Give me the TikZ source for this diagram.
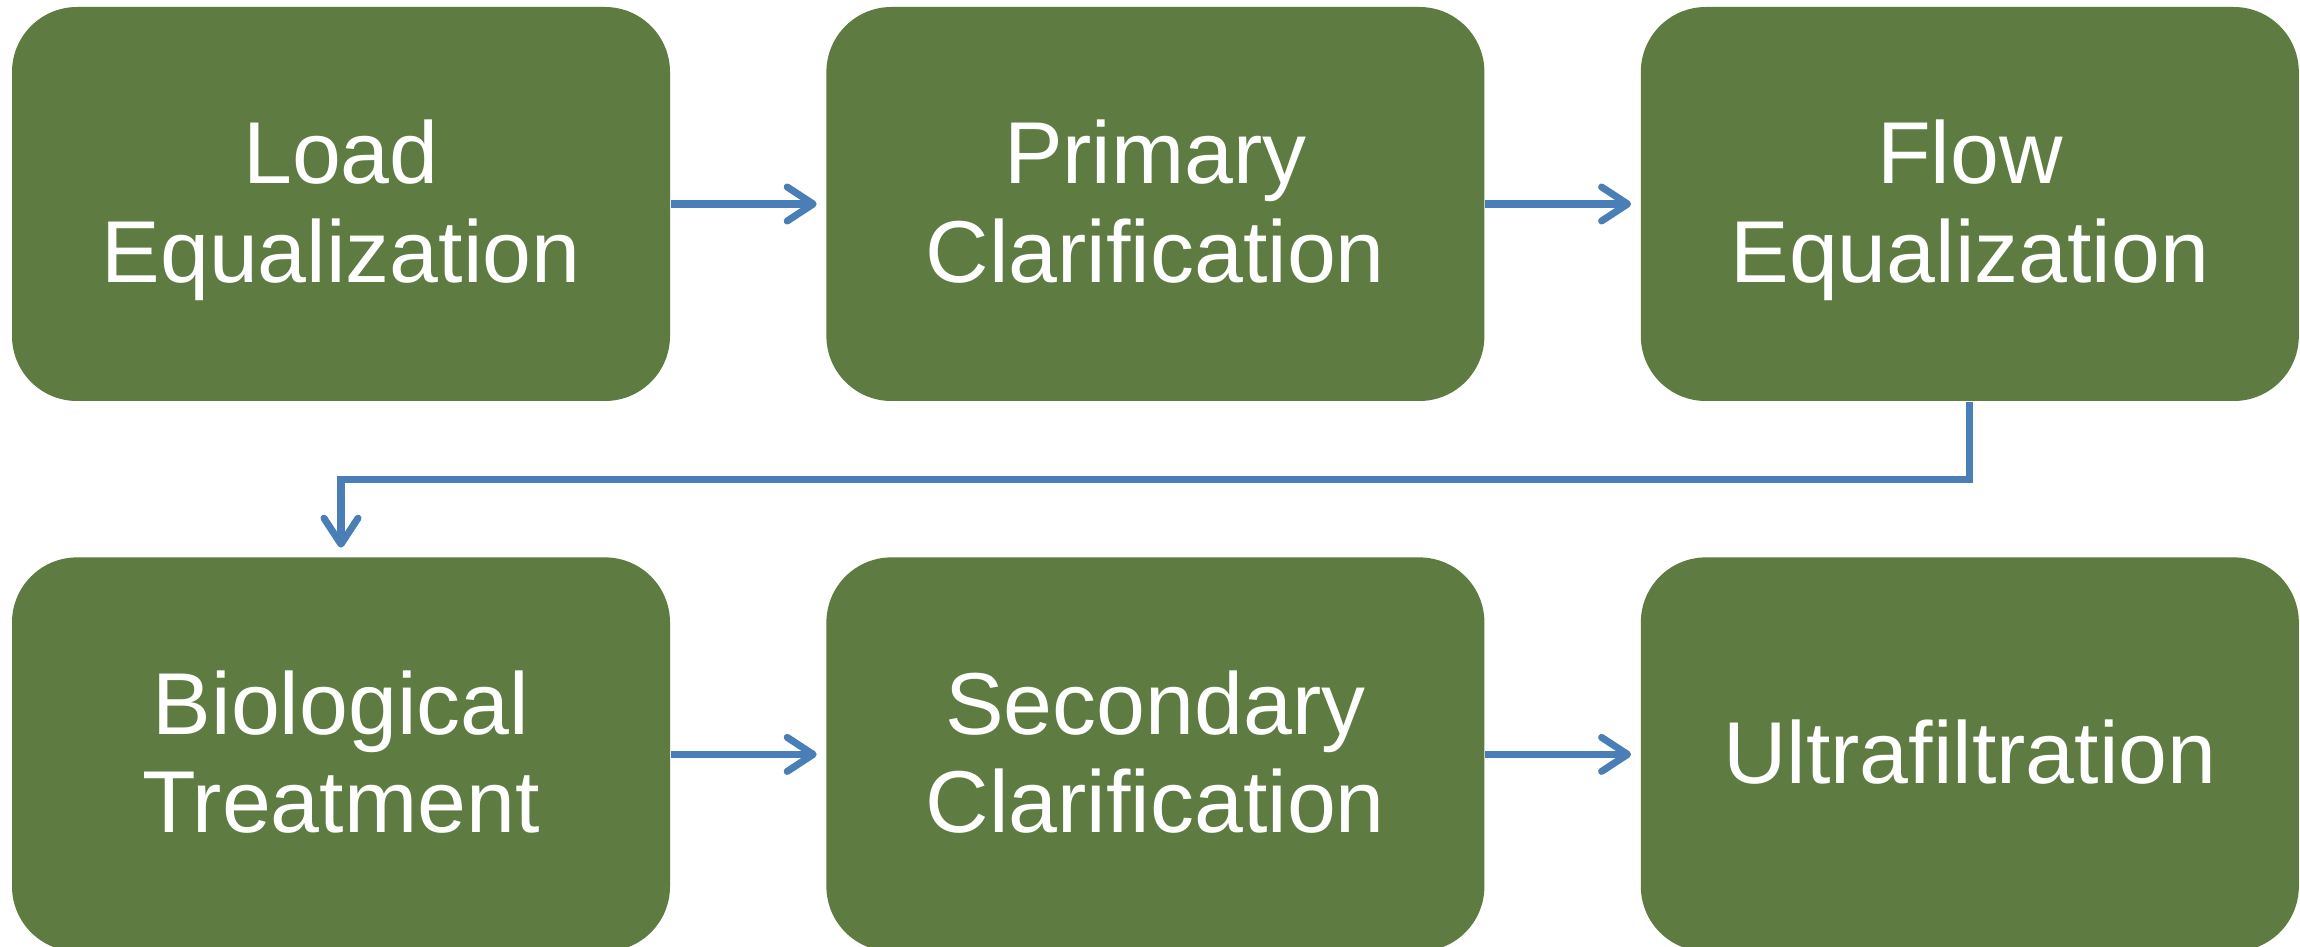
\documentclass[tikz,border=0pt]{standalone}
\usepackage{fontspec}
\setmainfont{Liberation Sans}
\usetikzlibrary{arrows.meta,calc,positioning}
\definecolor{stage}{HTML}{5E7B41}
\definecolor{pipe}{HTML}{4A7EB6}

\begin{document}
\begin{tikzpicture}[x=1cm,y=1cm,
  stagebox/.style={fill=stage,text=white,rounded corners=.65cm,align=center,
    minimum width=6.58cm,minimum height=3.94cm,inner sep=0pt,
    font=\fontsize{25}{28}\selectfont,text depth=1.7pt},
  flow/.style={draw=pipe,line width=2pt,
    -{Straight Barb[length=.26cm,width=.34cm,round]},shorten >=.09cm},
  node distance=1.55cm]
\path[use as bounding box] (0,0) rectangle (23,-9.47);
% Upper row of treatment stages
\node[stagebox] (load) at (3.41,-2.04) {Load\\Equalization};
\node[stagebox,right=of load] (prim) {Primary\\Clarification};
\node[stagebox,right=of prim] (floweq) {Flow\\Equalization};
% Lower row
\node[stagebox,below=of load] (bio) {Biological\\Treatment};
\node[stagebox,right=of bio] (sec) {Secondary\\Clarification};
\node[stagebox,right=of sec] (uf) {Ultrafiltration};

\draw[flow] (load) -- (prim);
\draw[flow] (prim) -- (floweq);
\draw[flow] (floweq.south) |- ($(floweq.south)!.5!(bio.north)$) -| (bio.north);
\draw[flow] (bio) -- (sec);
\draw[flow] (sec) -- (uf);
\end{tikzpicture}
\end{document}
